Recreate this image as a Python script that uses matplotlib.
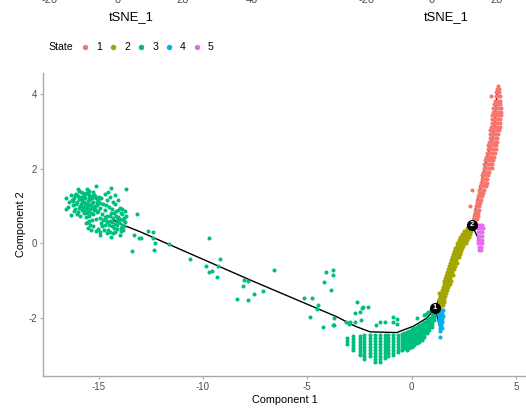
import matplotlib
matplotlib.use("Agg")
import matplotlib.pyplot as plt
from matplotlib.lines import Line2D

plt.rcParams['font.family'] = ['Liberation Sans', 'DejaVu Sans']
plt.rcParams['axes.unicode_minus'] = False

# ---------------------------------------------------------------- data
state_labels = ["1", "2", "3", "4", "5"]
state_colors = ["#F8766D", "#A3A500", "#00BF7D", "#00B0F6", "#E76BF3"]

# State 3: early cluster (component 1 around -16.6 .. -13.7)
state3_cluster = [
    (-16.56, 1.22), (-16.56, 0.91), (-16.32, 0.75), (-16.40, 1.10), (-16.25, 1.02),
    (-16.18, 1.20), (-16.12, 0.92), (-16.08, 1.32), (-16.02, 1.10), (-15.98, 0.84),
    (-15.94, 1.40), (-15.90, 1.00), (-15.86, 1.24), (-15.82, 0.90), (-15.78, 1.14),
    (-15.74, 1.34), (-15.71, 0.80), (-15.68, 1.04), (-15.64, 1.22), (-15.60, 0.94),
    (-15.56, 1.44), (-15.53, 1.12), (-15.50, 0.86), (-15.46, 1.30), (-15.43, 1.02),
    (-15.40, 1.18), (-15.36, 0.80), (-15.32, 0.96), (-15.29, 1.38), (-15.26, 1.10),
    (-15.22, 0.88), (-15.18, 1.26), (-15.12, 1.53), (-15.10, 1.02), (-15.06, 0.84),
    (-15.02, 1.16), (-16.15, 1.30), (-16.04, 0.78), (-15.95, 1.18), (-15.84, 1.06),
    (-15.70, 1.26), (-15.66, 0.88), (-15.58, 1.06), (-15.48, 1.20), (-15.40, 0.92),
    (-15.34, 1.08), (-15.20, 1.00), (-15.14, 1.20), (-16.30, 1.15), (-15.88, 0.72),
    (-15.76, 0.98), (-15.62, 1.34), (-15.45, 1.40), (-15.30, 1.22), (-16.20, 0.85),
    (-16.45, 0.98), (-16.35, 1.28), (-16.22, 1.12), (-16.10, 1.05), (-15.98, 1.26),
    (-15.92, 0.94), (-15.80, 1.20), (-15.72, 1.10), (-15.55, 0.98), (-15.50, 1.32),
    (-15.38, 1.26), (-15.24, 1.30), (-15.16, 0.92), (-15.08, 1.10), (-15.00, 1.24),
    (-15.85, 1.36), (-16.00, 1.45),
    (-15.60, 0.70), (-15.52, 0.56), (-15.45, 0.72), (-15.40, 0.48), (-15.30, 0.62),
    (-15.25, 0.78), (-15.25, 0.46), (-15.05, 0.86), (-15.05, 0.38), (-14.85, 0.78),
    (-14.78, 0.62), (-14.85, 0.46), (-14.95, 0.30), (-15.15, 0.32), (-15.35, 0.36),
    (-14.92, 0.94), (-14.70, 0.90), (-14.68, 0.50), (-14.62, 0.72), (-14.56, 0.36),
    (-14.52, 0.98), (-14.47, 0.60), (-14.42, 0.82), (-14.38, 0.45), (-14.32, 0.28),
    (-14.30, 0.68), (-14.24, 1.05), (-14.20, 0.52), (-14.16, 0.86), (-14.10, 0.38),
    (-14.06, 0.70), (-14.02, 0.56), (-13.96, 0.95), (-13.92, 0.32), (-13.88, 0.78),
    (-13.85, 0.62), (-13.80, 0.45), (-13.76, 0.85), (-13.72, 0.58), (-14.96, 0.22),
    (-14.40, 0.17), (-14.00, 0.23), (-14.60, 0.28), (-14.25, 0.40), (-13.82, 0.36),
    (-13.70, 0.72), (-14.12, 0.62), (-14.50, 0.48), (-14.75, 0.36), (-14.35, 0.92),
    (-14.65, 1.02), (-14.08, 0.90), (-13.90, 0.50), (-15.50, 0.40), (-15.62, 0.55),
    (-15.15, 0.65), (-14.95, 0.68), (-14.90, 0.54), (-14.72, 0.70), (-14.58, 0.56),
    (-14.45, 0.72), (-14.36, 0.56), (-14.28, 0.80), (-14.18, 0.72), (-14.12, 0.48),
    (-13.98, 0.64), (-13.94, 0.82), (-13.86, 0.92), (-13.78, 0.68), (-14.48, 0.30),
    (-14.22, 0.30), (-13.95, 0.42), (-14.66, 0.62), (-15.45, 0.60), (-15.55, 0.82),
    (-14.90, 1.20), (-14.80, 1.06), (-14.70, 1.32), (-14.60, 1.15), (-14.45, 1.25),
    (-14.40, 1.47), (-14.30, 1.10), (-14.20, 1.30), (-13.68, 1.44), (-13.16, 0.78),
    (-14.05, 1.15), (-14.95, 1.08), (-14.55, 1.38),
]

# State 3: cells spread along the long trunk
state3_trunk = [
    (-13.41, -0.21), (-12.33, -0.18), (-12.97, 0.15), (-12.65, 0.33), (-12.41, 0.29),
    (-12.41, 0.15), (-12.28, 0.01), (-11.64, -0.03), (-9.70, 0.13), (-10.62, -0.43),
    (-9.84, -0.62), (-9.70, -0.77), (-9.58, -0.74), (-9.30, -0.61), (-9.19, -0.43),
    (-9.35, -0.90), (-8.02, -0.99), (-7.82, -1.02), (-8.07, -1.14), (-8.39, -1.50),
    (-7.86, -1.53), (-7.54, -1.37), (-7.10, -1.29), (-6.59, -0.72), (-5.15, -1.47),
    (-4.78, -1.47), (-4.46, -1.66), (-4.51, -1.77), (-4.87, -1.98), (-4.10, -0.77),
    (-3.76, -0.71), (-3.78, -0.84), (-4.18, -1.05), (-3.84, -1.26), (-3.70, -1.99),
    (-4.22, -2.24), (-3.75, -2.20), (-3.16, -2.11), (-3.00, -2.15), (-13.05, 0.14),
    (-13.29, 0.21),
    (-2.59, -1.58), (-2.33, -1.70), (-2.11, -1.70), (-2.38, -1.73), (-2.71, -1.87),
    (-2.47, -1.85), (-2.42, -2.05), (-2.95, -2.12), (-2.71, -2.12), (-1.70, -2.19),
    (-1.27, -2.12), (-1.51, -2.12), (-0.87, -1.96), (-0.87, -2.12), (-0.68, -2.16),
    (-0.71, -2.04), (0.25, -2.01), (-3.73, -2.20),
    (0.62, -1.92), (0.80, -1.84), (0.92, -1.78), (0.70, -1.88),
]

# State 3: dense low cluster, cells stacked in vertical streaks (x, [y, ...])
state3_streaks = [
    (-3.07, [-2.54, -2.62, -2.70]),
    (-2.79, [-2.47, -2.55, -2.63, -2.71, -2.79, -2.86]),
    (-2.46, [-2.47, -2.55, -2.63, -2.71, -2.79, -2.87, -2.95, -3.00]),
    (-2.27, [-2.46, -2.54, -2.62, -2.70, -2.78, -2.86, -2.94, -3.02, -3.11]),
    (-1.99, [-2.46, -2.54, -2.62, -2.70, -2.78, -2.86, -2.94, -3.03]),
    (-1.75, [-2.46, -2.54, -2.62, -2.70, -2.78, -2.86, -2.94, -3.02, -3.10, -3.17]),
    (-1.51, [-2.46, -2.54, -2.62, -2.70, -2.78, -2.86, -2.94, -3.02, -3.10, -3.17]),
    (-1.27, [-2.46, -2.54, -2.62, -2.70, -2.78, -2.86, -2.94, -3.02, -3.08]),
    (-1.11, [-2.46, -2.54, -2.62, -2.70, -2.78, -2.86, -2.94, -3.03]),
    (-0.87, [-2.46, -2.54, -2.62, -2.70, -2.78, -2.86, -2.94, -2.99]),
    (-0.63, [-2.45, -2.53, -2.61, -2.69, -2.77, -2.85, -2.90]),
    (-0.47, [-2.43, -2.51, -2.59, -2.67, -2.75, -2.83, -2.86]),
    (-0.35, [-2.41, -2.49, -2.57, -2.65, -2.73, -2.81]),
    (-0.23, [-2.38, -2.46, -2.54, -2.62, -2.70, -2.78, -2.86]),
    (-0.11, [-2.34, -2.42, -2.50, -2.58, -2.66, -2.74, -2.80]),
    (0.01, [-2.30, -2.38, -2.46, -2.54, -2.62, -2.70, -2.77]),
    (0.13, [-2.27, -2.35, -2.43, -2.51, -2.59, -2.67, -2.72]),
    (0.25, [-2.24, -2.32, -2.40, -2.48, -2.56, -2.64, -2.68]),
    (0.37, [-2.20, -2.28, -2.36, -2.44, -2.52, -2.60, -2.64]),
    (0.49, [-2.16, -2.24, -2.32, -2.40, -2.48, -2.56, -2.59]),
    (0.61, [-2.11, -2.19, -2.27, -2.35, -2.43, -2.50]),
    (0.73, [-2.06, -2.14, -2.22, -2.30, -2.38, -2.41]),
    (0.85, [-2.00, -2.08, -2.16, -2.24, -2.32]),
    (0.97, [-1.93, -2.01, -2.09, -2.17, -2.23]),
    (1.09, [-1.84, -1.92, -2.00, -2.06]),
]

# State 2: branch between the two branch points (y, [x, ...])
state2_rows = [
    (-1.74, [1.22, 1.30, 1.38]),
    (-1.66, [1.26, 1.34, 1.42, 1.50]),
    (-1.58, [1.30, 1.38, 1.46, 1.54]),
    (-1.50, [1.34, 1.42, 1.50, 1.58]),
    (-1.42, [1.38, 1.46, 1.54, 1.62]),
    (-1.34, [1.31, 1.42, 1.50, 1.58, 1.66]),
    (-1.26, [1.46, 1.54, 1.62, 1.70]),
    (-1.18, [1.50, 1.58, 1.66, 1.74]),
    (-1.10, [1.54, 1.62, 1.70, 1.78, 1.86]),
    (-1.02, [1.58, 1.66, 1.74, 1.82, 1.90]),
    (-0.94, [1.62, 1.70, 1.78, 1.86]),
    (-0.86, [1.66, 1.74, 1.82, 1.90, 1.98]),
    (-0.78, [1.70, 1.78, 1.86, 1.94]),
    (-0.70, [1.74, 1.82, 1.90, 1.98, 2.06]),
    (-0.62, [1.78, 1.86, 1.94, 2.02, 2.10]),
    (-0.54, [1.86, 1.92, 2.00, 2.08, 2.16]),
    (-0.46, [1.90, 1.98, 2.06, 2.14]),
    (-0.38, [1.96, 2.04, 2.12, 2.20, 2.28]),
    (-0.30, [2.00, 2.08, 2.16, 2.24, 2.32]),
    (-0.22, [2.06, 2.14, 2.22, 2.30, 2.38]),
    (-0.14, [2.10, 2.18, 2.26, 2.34, 2.42]),
    (-0.06, [2.16, 2.24, 2.32, 2.40, 2.48]),
    (0.02, [2.20, 2.28, 2.36, 2.44, 2.52, 2.60]),
    (0.10, [2.26, 2.34, 2.42, 2.50, 2.58, 2.66]),
    (0.18, [2.34, 2.42, 2.50, 2.58, 2.66, 2.74]),
    (0.26, [2.42, 2.50, 2.58, 2.66, 2.74, 2.82]),
    (0.34, [2.52, 2.60, 2.68, 2.76, 2.84]),
    (0.42, [2.66, 2.74, 2.82, 2.90]),
    (0.50, [2.80, 2.88]),
]

# State 1: upper branch (y, [x, ...])
state1_rows = [
    (0.58, [2.98, 3.06]),
    (0.66, [2.98, 3.06, 3.12]),
    (0.74, [3.02, 3.10, 3.18]),
    (0.82, [3.04, 3.12, 3.20]),
    (0.90, [3.06, 3.14, 3.22]),
    (0.99, [2.80, 3.08, 3.17, 3.26]),
    (1.08, [3.12, 3.21, 3.30]),
    (1.17, [3.14, 3.24, 3.34]),
    (1.26, [3.18, 3.28, 3.38]),
    (1.35, [3.22, 3.32, 3.42]),
    (1.42, [2.90, 3.26, 3.36, 3.46]),
    (1.52, [3.28, 3.38, 3.48, 3.56]),
    (1.62, [3.32, 3.42, 3.52, 3.60]),
    (1.72, [3.36, 3.46, 3.56, 3.64]),
    (1.82, [3.40, 3.50, 3.60, 3.68]),
    (1.92, [3.44, 3.54, 3.64, 3.72]),
    (2.02, [3.46, 3.56, 3.66, 3.76, 3.84]),
    (2.12, [3.50, 3.60, 3.70, 3.80, 3.88]),
    (2.22, [3.54, 3.64, 3.74, 3.84, 3.92]),
    (2.32, [3.58, 3.68, 3.78, 3.88, 3.96]),
    (2.42, [3.62, 3.72, 3.82, 3.92, 4.00]),
    (2.52, [3.66, 3.76, 3.86, 3.96, 4.04]),
    (2.62, [3.68, 3.78, 3.88, 3.98, 4.06]),
    (2.72, [3.72, 3.82, 3.92, 4.02, 4.10]),
    (2.82, [3.74, 3.84, 3.94, 4.04, 4.12]),
    (2.92, [3.76, 3.86, 3.96, 4.06, 4.16]),
    (3.02, [3.78, 3.88, 3.98, 4.08, 4.18]),
    (3.12, [3.82, 3.92, 4.02, 4.12, 4.22]),
    (3.22, [3.84, 3.94, 4.04, 4.14, 4.24]),
    (3.32, [3.86, 3.96, 4.06, 4.16, 4.26]),
    (3.42, [3.88, 3.98, 4.08, 4.18, 4.28]),
    (3.52, [3.90, 4.00, 4.10, 4.20, 4.30]),
    (3.62, [3.92, 4.02, 4.12, 4.22, 4.30]),
    (3.72, [3.94, 4.04, 4.14, 4.24]),
    (3.82, [3.98, 4.08, 4.18, 4.26]),
    (3.94, [3.80, 4.04, 4.14, 4.22]),
    (4.04, [4.06, 4.14, 4.20]),
    (4.12, [4.10, 4.18]),
    (4.21, [4.14]),
]

# State 4: short branch below branch point 1 (y, [x, ...])
state4_rows = [
    (-1.78, [1.25, 1.35, 1.45, 1.52]),
    (-1.86, [1.28, 1.38, 1.48]),
    (-1.94, [1.30, 1.40, 1.50]),
    (-2.02, [1.32, 1.40, 1.48]),
    (-2.10, [1.33, 1.42, 1.48]),
    (-2.18, [1.35, 1.43]),
    (-2.26, [1.36, 1.44]),
    (-2.34, [1.38]),
    (-2.50, [1.37]),
]

# State 5: short branch below branch point 2 (y, [x, ...])
state5_rows = [
    (0.50, [3.18, 3.28, 3.38]),
    (0.40, [3.18, 3.28, 3.38, 3.44]),
    (0.30, [3.20, 3.30, 3.40]),
    (0.20, [3.20, 3.30, 3.40]),
    (0.10, [3.20, 3.30, 3.40]),
    (0.00, [3.20, 3.30, 3.40]),
    (-0.10, [3.22, 3.32]),
    (-0.18, [3.25, 3.33]),
]

# Principal graph (trajectory backbone)
trajectory = [
    (-14.30, 0.62), (-13.84, 0.49), (-13.02, 0.31), (-7.75, -0.98), (-3.57, -1.97),
    (-2.70, -2.22), (-1.99, -2.37), (-0.71, -2.39), (0.09, -2.22), (0.74, -2.00),
    (1.13, -1.73), (2.90, 0.49), (3.50, 2.00), (3.95, 3.00), (4.12, 4.15),
]
branch_4 = [(1.13, -1.73), (1.38, -2.30)]
branch_5 = [(2.90, 0.49), (3.30, 0.00)]

branch_points = [(1.13, -1.73, "1"), (2.90, 0.49, "2")]

x_ticks = [-15, -10, -5, 0, 5]
y_ticks = [-2, 0, 2, 4]


def from_rows(rows):
    xs, ys = [], []
    for y, row in rows:
        for x in row:
            xs.append(x)
            ys.append(y)
    return xs, ys


def from_columns(cols):
    xs, ys = [], []
    for x, col in cols:
        for y in col:
            xs.append(x)
            ys.append(y)
    return xs, ys


# ---------------------------------------------------------------- figure
W, H = 526, 411
fig = plt.figure(figsize=(W / 100, H / 100), dpi=100)


def fx(px):
    return px / W


def fy(py):
    return 1 - py / H


ax = fig.add_axes([fx(43), fy(376), fx(526) - fx(43), fy(73) - fy(376)])
ax.set_xlim(-17.67, 5.49)
ax.set_ylim(-3.552, 4.556)

# trajectory under the cells
for seg in (trajectory, branch_4, branch_5):
    ax.plot([p[0] for p in seg], [p[1] for p in seg], color="black", lw=1.0,
            zorder=1, solid_capstyle="round")

pt_size = 8.5
s3x, s3y = [], []
for part in (state3_cluster, state3_trunk):
    s3x += [p[0] for p in part]
    s3y += [p[1] for p in part]
cx, cy = from_columns(state3_streaks)
s3x += cx
s3y += cy
ax.scatter(s3x, s3y, s=pt_size, color=state_colors[2], linewidths=0, zorder=2)

s4x, s4y = from_rows(state4_rows)
ax.scatter(s4x, s4y, s=pt_size, color=state_colors[3], linewidths=0, zorder=2)

s2x, s2y = from_rows(state2_rows)
ax.scatter(s2x, s2y, s=pt_size, color=state_colors[1], linewidths=0, zorder=2)

s5x, s5y = from_rows(state5_rows)
ax.scatter(s5x, s5y, s=pt_size, color=state_colors[4], linewidths=0, zorder=2)

s1x, s1y = from_rows(state1_rows)
ax.scatter(s1x, s1y, s=pt_size, color=state_colors[0], linewidths=0, zorder=2)

for bx, by, lab in branch_points:
    ax.plot([bx], [by], marker="o", ms=7, color="black", zorder=4)
    ax.text(bx, by, lab, color="white", fontsize=5.5, fontweight="bold",
            ha="center", va="center", zorder=5)

# axes styling
axis_grey = "#A9A9A9"
for side in ("top", "right"):
    ax.spines[side].set_visible(False)
for side in ("left", "bottom"):
    ax.spines[side].set_color(axis_grey)
    ax.spines[side].set_linewidth(1.0)
ax.set_xticks(x_ticks)
ax.set_yticks(y_ticks)
ax.set_xticklabels([str(t) for t in x_ticks])
ax.set_yticklabels([str(t) for t in y_ticks])
ax.tick_params(axis="both", length=2.2, width=0.8, color=axis_grey,
               labelcolor="#4D4D4D", labelsize=7, pad=2)
ax.set_facecolor("white")

ax.set_xlabel("Component 1", fontsize=7.8, color="black")
ax.xaxis.label.set_va("center")
ax.xaxis.set_label_coords(0.5, (376 - 400) / (376 - 73))
ax.set_ylabel("Component 2", fontsize=7.8, color="black")
ax.yaxis.label.set_va("center")
ax.yaxis.set_label_coords((20.7 - 43) / (526 - 43), 0.5)

# legend row above the panel
fig.text(fx(48.7), fy(46.7), "State", fontsize=7.6, ha="left", va="center",
         color="black")
dot_x = [85, 113.3, 141.3, 169.3, 197.3]
lab_x = [98.7, 127, 155.3, 183, 211]
for c, lab, dx, lx in zip(state_colors, state_labels, dot_x, lab_x):
    fig.add_artist(Line2D([fx(dx)], [fy(46.7)], marker="o", ms=2.9, color=c,
                          linestyle="none", transform=fig.transFigure))
    fig.text(fx(lx), fy(46.7), lab, fontsize=7.6, ha="center", va="center",
             color="black")

# bottom of the panels stacked above (they run off the top edge)
for tx, tl in zip([50, 118, 183, 252, 367, 432, 497],
                  ["-20", "0", "20", "40", "-20", "0", "20"]):
    fig.text(fx(tx), fy(3.3), tl, fontsize=8, ha="center", va="baseline",
             color="#4D4D4D")
for tx in (131.7, 445.8):
    fig.text(fx(tx), fy(17), "tSNE_1", fontsize=9.4, ha="center", va="center",
             color="black")

fig.savefig("out.png", dpi=100, facecolor="white")
